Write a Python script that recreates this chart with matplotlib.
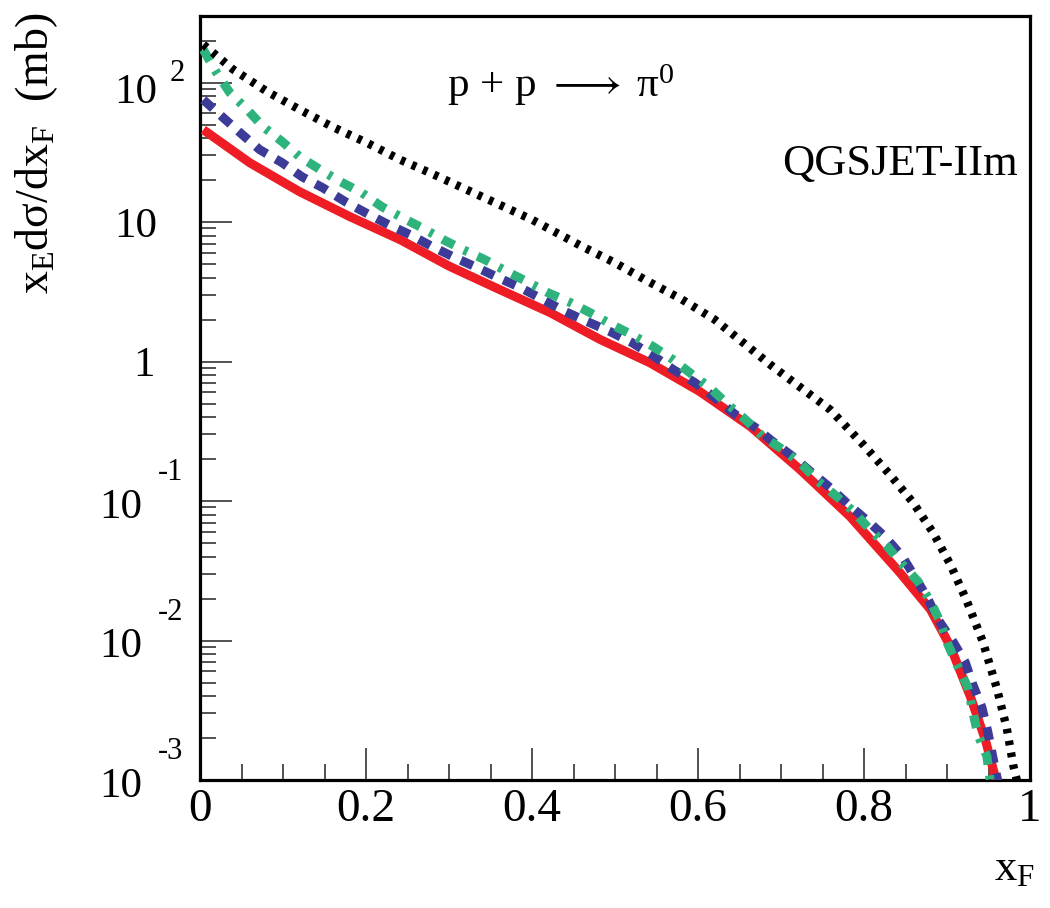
import matplotlib
matplotlib.use('Agg')
import matplotlib.pyplot as plt
import matplotlib.transforms as mtransforms
from matplotlib.ticker import LogLocator, NullFormatter, MultipleLocator

plt.rcParams['font.family'] = ['Liberation Serif', 'DejaVu Serif']
plt.rcParams['mathtext.fontset'] = 'custom'
plt.rcParams['mathtext.rm'] = 'Liberation Serif'
plt.rcParams['mathtext.it'] = 'Liberation Serif'

# curves: x_F and x_E dsigma/dx_F (mb)
x_red = [0.004, 0.060, 0.120, 0.181, 0.241, 0.301, 0.361, 0.422, 0.482, 0.542,
         0.602, 0.663, 0.723, 0.783, 0.843, 0.880, 0.904, 0.928, 0.946, 0.958, 0.962]
y_red = [45.9, 26.6, 16.5, 10.9, 7.48, 4.80, 3.28, 2.24, 1.44, 0.98,
         0.61, 0.342, 0.168, 0.0776, 0.0308, 0.0167, 0.00908, 0.00398, 0.00196, 0.00106, 0.0008]

x_blue = [0.004, 0.028, 0.051, 0.072, 0.099, 0.123, 0.148, 0.175, 0.199, 0.227,
          0.253, 0.280, 0.307, 0.334, 0.359, 0.386, 0.413, 0.440, 0.466, 0.494,
          0.520, 0.546, 0.570, 0.596, 0.620, 0.645, 0.669, 0.690, 0.714, 0.737,
          0.759, 0.781, 0.805, 0.825, 0.846, 0.861, 0.876, 0.889, 0.907, 0.922,
          0.931, 0.942, 0.949, 0.955, 0.960, 0.963]
y_blue = [75.3, 56.0, 42.3, 33.0, 26.6, 21.1, 17.6, 14.0, 11.7, 9.58,
          8.12, 6.66, 5.56, 4.71, 4.00, 3.39, 2.78, 2.28, 1.94, 1.64,
          1.37, 1.10, 0.877, 0.707, 0.552, 0.417, 0.337, 0.267, 0.209, 0.160,
          0.125, 0.0946, 0.0714, 0.0557, 0.0401, 0.0288, 0.0204, 0.0142, 0.00986, 0.00698,
          0.00485, 0.00332, 0.00224, 0.00148, 0.00106, 0.0009]

x_green = [0.004, 0.020, 0.036, 0.057, 0.076, 0.099, 0.120, 0.145, 0.169, 0.195,
           0.219, 0.243, 0.267, 0.293, 0.317, 0.343, 0.370, 0.394, 0.419, 0.446,
           0.470, 0.496, 0.520, 0.546, 0.570, 0.593, 0.614, 0.636, 0.657, 0.678,
           0.702, 0.725, 0.745, 0.767, 0.787, 0.807, 0.828, 0.846, 0.865, 0.880,
           0.892, 0.901, 0.913, 0.925, 0.931, 0.937, 0.948, 0.952, 0.954]
y_green = [172, 117.5, 84.5, 63.9, 48.2, 37.7, 29.4, 23.7, 19.5, 16.2,
           12.9, 10.8, 9.12, 7.48, 6.34, 5.38, 4.41, 3.74, 3.12, 2.65,
           2.24, 1.84, 1.56, 1.28, 1.03, 0.807, 0.652, 0.492, 0.384, 0.290,
           0.234, 0.183, 0.138, 0.108, 0.0843, 0.0627, 0.0473, 0.0352, 0.0265, 0.0191,
           0.0135, 0.0094, 0.00653, 0.00462, 0.00311, 0.00213, 0.00148, 0.0010, 0.0009]

x_black = [0.004, 0.040, 0.081, 0.120, 0.160, 0.201, 0.241, 0.281, 0.300, 0.400,
           0.460, 0.500, 0.540, 0.580, 0.620, 0.690, 0.759, 0.799, 0.831, 0.859,
           0.883, 0.904, 0.924, 0.943, 0.960, 0.972, 0.980, 0.986]
y_black = [187, 124, 86, 64, 48, 37, 28, 22, 19.5, 10.4,
           6.7, 5.1, 3.75, 2.8, 2.0, 0.92, 0.453, 0.254, 0.155, 0.0977,
           0.0596, 0.0351, 0.0191, 0.00987, 0.00455, 0.00235, 0.00126, 0.0009]

xtick_vals = [0, 0.2, 0.4, 0.6, 0.8, 1]
xtick_labels = ['0', '0.2', '0.4', '0.6', '0.8', '1']

fig = plt.figure(figsize=(10.5, 9.08), dpi=100)
ax = fig.add_axes([200 / 1050, 1 - 780 / 908, 830 / 1050, 764 / 908])

ax.plot(x_red, y_red, color='#ee1c24', lw=6.5, solid_capstyle='butt', zorder=3)
ax.plot(x_blue, y_blue, color='#3c3c98', lw=6.5, dashes=(1.45, 1.15),
        dash_capstyle='butt', zorder=4)
ax.plot(x_green, y_green, color='#2db37b', lw=6.5, dashes=(1.45, 1.2, 0.45, 1.2),
        dash_capstyle='butt', zorder=5)
ax.plot(x_black, y_black, color='black', lw=6.0, dashes=(0.55, 0.9),
        dash_capstyle='butt', zorder=6)

ax.set_yscale('log')
ax.set_xlim(0, 1)
ax.set_ylim(1e-3, 300)

ax.xaxis.set_minor_locator(MultipleLocator(0.05))
ax.set_xticks(xtick_vals)
ax.set_xticklabels(xtick_labels, fontsize=34)
ax.yaxis.set_major_locator(LogLocator(base=10, numticks=20))
ax.yaxis.set_minor_locator(LogLocator(base=10, subs=range(2, 10), numticks=20))
ax.yaxis.set_major_formatter(NullFormatter())
ax.yaxis.set_minor_formatter(NullFormatter())

ax.tick_params(which='both', direction='in', top=False, right=False,
               color='#333333', width=1.2)
ax.tick_params(which='major', length=23, pad=6)
ax.tick_params(which='minor', length=11.5)
for s in ax.spines.values():
    s.set_linewidth(2.3)

# ROOT-style y tick labels
trans = mtransforms.blended_transform_factory(ax.transAxes, ax.transData)
ylab_size = 31
exp_size = 22
ax.annotate('10', xy=(0, 100), xycoords=trans, xytext=(-43, -6), textcoords='offset pixels',
            ha='right', va='center_baseline', fontsize=ylab_size, annotation_clip=False)
ax.annotate('2', xy=(0, 100), xycoords=trans, xytext=(-30, 13), textcoords='offset pixels',
            ha='left', va='center_baseline', fontsize=exp_size, annotation_clip=False)
ax.annotate('10', xy=(0, 10), xycoords=trans, xytext=(-43, 0), textcoords='offset pixels',
            ha='right', va='center_baseline', fontsize=ylab_size, annotation_clip=False)
ax.annotate('1', xy=(0, 1), xycoords=trans, xytext=(-45, 0), textcoords='offset pixels',
            ha='right', va='center_baseline', fontsize=ylab_size, annotation_clip=False)
for v, e in [(0.1, '-1'), (0.01, '-2'), (0.001, '-3')]:
    ax.annotate('10', xy=(0, v), xycoords=trans, xytext=(-58, -2), textcoords='offset pixels',
                ha='right', va='center_baseline', fontsize=ylab_size, annotation_clip=False)
    ax.annotate(e, xy=(0, v), xycoords=trans, xytext=(-42, 32), textcoords='offset pixels',
                ha='left', va='center_baseline', fontsize=exp_size, annotation_clip=False)

fig.text(13 / 1050, 1 - 12 / 908, r'$\mathrm{x_{E}d\sigma/dx_{F}}$  (mb)',
         rotation=90, ha='left', va='top', fontsize=33)
fig.text(1035 / 1050, 1 - 880 / 908, r'$\mathrm{x_{F}}$', ha='right', va='baseline', fontsize=32)

fig.text(447 / 1050, 1 - 97 / 908, r'p + p $\longrightarrow\;$π$^{0}$',
         ha='left', va='baseline', fontsize=31)
fig.text(1018 / 1050, 1 - 175 / 908, 'QGSJET-IIm', ha='right', va='baseline', fontsize=32)

fig.savefig('out.png', dpi=100)
